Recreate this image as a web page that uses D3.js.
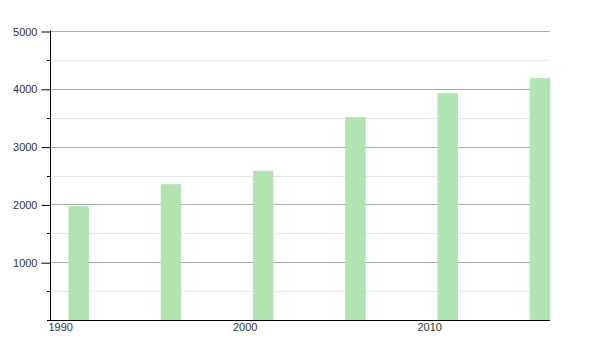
<!doctype html>
<html>
<head>
<script src="https://d3js.org/d3.v7.min.js"></script>
<style>
body { margin:0; background:#fff; }
.tick text { font-family: "Liberation Sans", Arial, sans-serif; font-size:11px; fill:#333; }
</style>
</head>
<body>
<script>
var years = [1991, 1996, 2001, 2006, 2011, 2016];
var values = [1970, 2350, 2580, 3510, 3925, 4185];
var yTicks = [1000, 2000, 3000, 4000, 5000];
var xTicks = [1990, 2000, 2010];

var width = 600, height = 350;
var mLeft = 50, mRight = 550, mTop = 31, mBottom = 320;
var barW = 20.5;

var svg = d3.select('body').append('svg').attr('width', width).attr('height', height);

var defs = svg.append('defs');
defs.append('filter').attr('id', 'soft')
	.attr('x', '-20%').attr('y', '-5%').attr('width', '140%').attr('height', '110%')
	.append('feGaussianBlur').attr('stdDeviation', 0.6);

var x = d3.scaleLinear().domain([1990, 2017.1]).range([mLeft, mRight]);
var y = d3.scaleLinear().domain([0, 5000]).range([mBottom, mTop]);

// minor grid lines (every 500)
var minor = d3.range(500, 5000, 1000);
svg.append('g').selectAll('line').data(minor).enter().append('line')
	.attr('x1', mLeft).attr('x2', mRight)
	.attr('y1', function(d){ return Math.round(y(d)) + 0.5; })
	.attr('y2', function(d){ return Math.round(y(d)) + 0.5; })
	.style('stroke', '#e6e6e6');

// major grid lines
svg.append('g').selectAll('line').data(yTicks).enter().append('line')
	.attr('x1', mLeft).attr('x2', mRight)
	.attr('y1', function(d){ return Math.round(y(d)) + 0.5; })
	.attr('y2', function(d){ return Math.round(y(d)) + 0.5; })
	.style('stroke', '#aaa');

// bars
svg.append('g').attr('filter', 'url(#soft)').selectAll('rect').data(values).enter().append('rect')
	.attr('x', function(d, i){ return x(years[i]); })
	.attr('width', barW)
	.attr('y', function(d){ return y(d); })
	.attr('height', function(d){ return y(0) - y(d); })
	.style('fill', '#b1e4b0');

// y axis
var yAxis = d3.axisLeft(y).tickValues(yTicks).tickSize(9).tickPadding(4).tickFormat(d3.format('d'));
var yG = svg.append('g').attr('transform', 'translate(' + (mLeft + 0.5) + ',0.5)').call(yAxis);
yG.select('.domain').attr('d', 'M0,' + (mTop - 1) + 'V' + mBottom);
yG.selectAll('.tick line').style('stroke', '#000');
svg.append('g').selectAll('line').data(minor).enter().append('line')
	.attr('x1', mLeft - 3).attr('x2', mLeft)
	.attr('y1', function(d){ return Math.round(y(d)) + 0.5; })
	.attr('y2', function(d){ return Math.round(y(d)) + 0.5; })
	.style('stroke', '#000');

// x axis
var xAxis = d3.axisBottom(x).tickValues(xTicks).tickSize(0).tickPadding(3).tickFormat(d3.format('d'));
var xG = svg.append('g').attr('transform', 'translate(0,' + (mBottom + 0.5) + ')').call(xAxis);
xG.select('.domain').attr('d', 'M' + (mLeft - 3) + ',0H' + mRight).style('stroke', '#000');
xG.selectAll('.tick text').attr('text-anchor', 'start').attr('dx', -2);
</script>
</body>
</html>
